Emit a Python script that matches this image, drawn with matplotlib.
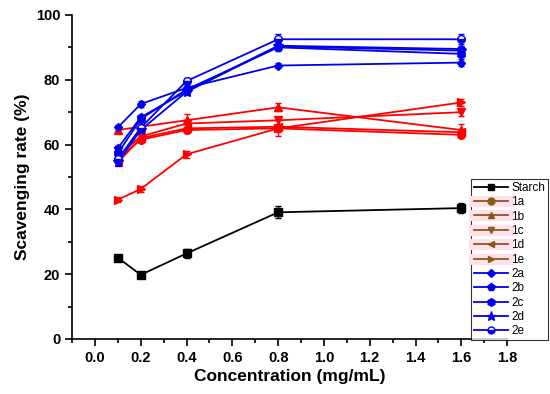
import matplotlib
matplotlib.use("Agg")
import matplotlib.pyplot as plt
from matplotlib.lines import Line2D
from matplotlib.ticker import MultipleLocator

plt.rcParams['font.family'] = ['Liberation Sans', 'DejaVu Sans']

conc = [0.1, 0.2, 0.4, 0.8, 1.6]

starch = [25.1, 19.8, 26.4, 39.1, 40.4]
starch_err = [0.8, 0.9, 1.3, 1.8, 1.5]

labels_red = ['1a', '1b', '1c', '1d', '1e']
red_vals = [
    [55.5, 61.5, 64.5, 65.0, 63.0],
    [64.5, 65.5, 67.5, 71.5, 64.5],
    [56.5, 62.5, 66.5, 67.5, 70.0],
    [54.5, 62.0, 65.0, 65.5, 63.8],
    [43.0, 46.3, 57.0, 65.0, 73.0],
]
red_err = [
    [0.8, 0.8, 1.0, 2.5, 0.8],
    [0.8, 0.8, 2.0, 1.2, 2.0],
    [0.8, 0.8, 1.0, 1.0, 1.2],
    [0.8, 0.8, 1.0, 1.0, 1.0],
    [0.8, 0.8, 1.0, 1.0, 1.0],
]
red_markers = ['o', '^', 'v', '<', '>']

labels_blue = ['2a', '2b', '2c', '2d', '2e']
blue_vals = [
    [65.3, 72.5, 77.5, 84.4, 85.3],
    [58.9, 68.4, 76.5, 90.5, 89.5],
    [57.3, 67.9, 77.0, 90.0, 88.0],
    [54.5, 64.5, 76.3, 90.3, 89.0],
    [55.5, 65.2, 79.6, 92.5, 92.5],
]
blue_err = [
    [0.8, 0.8, 0.8, 0.8, 1.0],
    [0.8, 0.8, 0.8, 1.0, 1.0],
    [0.8, 0.8, 0.8, 1.0, 1.0],
    [1.2, 1.0, 1.0, 1.0, 1.0],
    [1.2, 1.0, 1.0, 1.5, 1.5],
]
blue_markers = ['D', 'p', 'h', '*', 'o']
blue_ms = [4.5, 6, 6, 7, 5.5]

fig = plt.figure(figsize=(5.5, 3.94), dpi=100)
ax = fig.add_axes([0.131, 0.1396, 0.791, 0.8224])

lw = 1.3
ax.errorbar(conc, starch, yerr=starch_err, color='black', marker='s', ms=5.5,
            lw=lw, capsize=2.5, elinewidth=1, label='Starch')
for lab, vals, err, mk in zip(labels_red, red_vals, red_err, red_markers):
    ax.errorbar(conc, vals, yerr=err, color='red', marker=mk, ms=5.5, lw=lw,
                capsize=2.5, elinewidth=1, label=lab)
for lab, vals, err, mk, m in zip(labels_blue, blue_vals, blue_err, blue_markers, blue_ms):
    kw = {}
    if lab == '2e':
        kw = dict(fillstyle='bottom', markerfacecoloralt='white')
    ax.errorbar(conc, vals, yerr=err, color='#0000ee', marker=mk,
                ms=m, lw=lw, capsize=2.5, elinewidth=1, label=lab, **kw)

ax.set_xlim(-0.1, 1.8)
ax.set_ylim(0, 100)
ax.xaxis.set_minor_locator(MultipleLocator(0.1))
ax.yaxis.set_major_locator(MultipleLocator(20))
ax.yaxis.set_minor_locator(MultipleLocator(10))
ax.set_xticks([0.0, 0.2, 0.4, 0.6, 0.8, 1.0, 1.2, 1.4, 1.6, 1.8])
ax.set_xticklabels(['0.0', '0.2', '0.4', '0.6', '0.8', '1.0', '1.2', '1.4', '1.6', '1.8'])
ax.spines['top'].set_visible(False)
ax.spines['right'].set_visible(False)
for s in ['left', 'bottom']:
    ax.spines[s].set_linewidth(1.2)
ax.tick_params(which='major', direction='out', length=5, width=1.2,
               labelsize=10.5)
ax.tick_params(which='minor', direction='out', length=3, width=1.2)
for t in ax.get_xticklabels() + ax.get_yticklabels():
    t.set_fontweight('bold')
ax.set_xlabel('Concentration (mg/mL)', fontsize=12.5, fontweight='bold', labelpad=3)
ax.set_ylabel('Scavenging rate (%)', fontsize=12.5, fontweight='bold', labelpad=4)

# legend handles
handles = [Line2D([0], [0], color='black', marker='s', ms=4.5, lw=1.3)]
for mk in red_markers:
    handles.append((Line2D([0], [0], color='#ffe0ec', lw=8),
                    Line2D([0], [0], color='#8b5a14', marker=mk, ms=5, lw=1.3)))
for lab, mk, m in zip(labels_blue, blue_markers, blue_ms):
    kw = {}
    if lab == '2e':
        kw = dict(fillstyle='bottom', markerfacecoloralt='white')
    handles.append(Line2D([0], [0], color='#0000ee', marker=mk,
                          ms=m - 0.5, lw=1.3, **kw))
labels = ['Starch'] + labels_red + labels_blue
leg = fig.legend(handles, labels, loc='lower left', bbox_to_anchor=(0.856, 0.136),
                 fontsize=8.5, frameon=True, fancybox=False, edgecolor='black',
                 handlelength=2.9, handletextpad=0.3, labelspacing=0.2,
                 borderpad=0.25, borderaxespad=0)
leg.get_frame().set_linewidth(0.8)

fig.savefig('out.png', dpi=100)
